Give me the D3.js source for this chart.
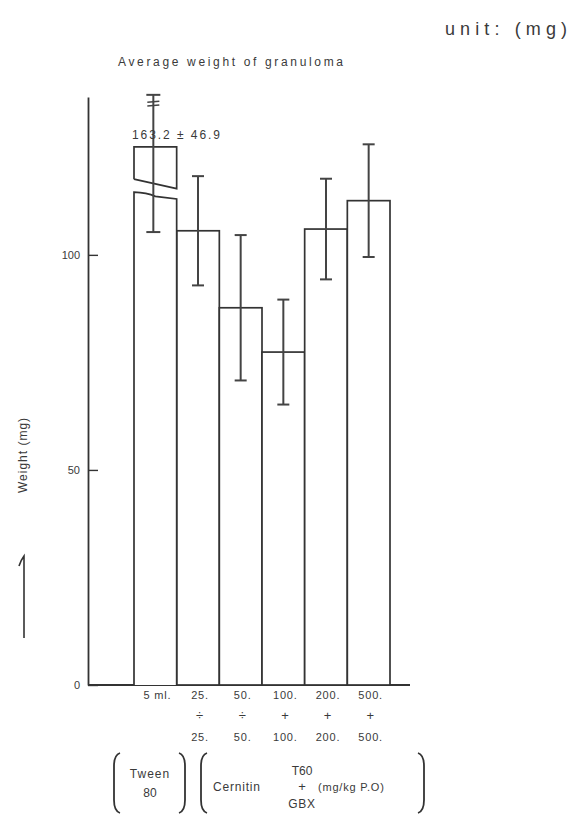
<!DOCTYPE html>
<html>
<head>
<meta charset="utf-8">
<script src="https://cdn.jsdelivr.net/npm/d3@7"></script>
<style>
  body { margin: 0; background: #fff; }
  text { font-family: "Liberation Sans", Arial, sans-serif; fill: #3a3a3a; }
</style>
</head>
<body>
<div id="chart"></div>
<script>
(function(){

    // groups, in drawing order
    var groups    = ["ctrl", "25", "50", "100", "200", "500"];
    var topLabels = ["5 ml.", "25.", "50.", "100.", "200.", "500."];
    var midLabels = ["", "÷", "÷", "+", "+", "+"];
    var botLabels = ["", "25.", "50.", "100.", "200.", "500."];

    // mean weight of granuloma (mg) and SD
    var means = [163.2, 105.6, 87.7, 77.4, 106.0, 112.6];
    var sds   = [46.9, 12.7, 16.9, 12.2, 11.7, 13.1];

    var yTicks = [0, 50, 100];

    // the control bar sits on a broken axis: real value -> drawn value
    var ctrlReal  = [0, 116.3, 163.2, 210.1];
    var ctrlDrawn = [0, 105.3, 125.1, 137.2];
    var ctrlBreakUpper = [117.6, 115.4];   // left, right (drawn units)
    var ctrlBreakLower = [114.6, 113.0];
    var ctrlWhiskerBreak = [135.6, 134.7];

    var stroke = "#333";

    var svg = d3.select("#chart")
                .append("svg")
                .attr("width", 571)
                .attr("height", 815);

    var y = d3.scaleLinear().domain([0, 136.7]).range([685, 97]);
    var x = d3.scaleBand().domain(groups).range([134, 390]).padding(0);
    var yCtrl = d3.scaleLinear().domain(ctrlReal).range(ctrlDrawn);
    var bw = x.bandwidth();

    // titles
    svg.append("text")
       .attr("x", 445).attr("y", 35)
       .attr("font-size", 18)
       .attr("font-family", "DejaVu Sans, sans-serif")
       .attr("textLength", 122)
       .text("unit:  (mg)");

    svg.append("text")
       .attr("x", 118).attr("y", 66)
       .attr("font-size", 12)
       .attr("textLength", 225)
       .text("Average weight of granuloma");

    // y axis
    var axis = svg.append("g")
                  .attr("transform", "translate(88,0)")
                  .call(d3.axisLeft(y)
                          .tickValues(yTicks)
                          .tickSizeInner(-10)
                          .tickSizeOuter(0)
                          .tickPadding(8));
    axis.select(".domain").attr("stroke", stroke).attr("stroke-width", 1.8);
    axis.selectAll(".tick line").attr("stroke", stroke).attr("stroke-width", 1.4);
    axis.selectAll(".tick text")
        .attr("font-size", 11)
        .attr("fill", "#3a3a3a")
        .attr("font-family", "Liberation Sans, Arial, sans-serif");

    svg.append("line")
       .attr("x1", 88).attr("x2", 410)
       .attr("y1", y(0)).attr("y2", y(0))
       .attr("stroke", stroke).attr("stroke-width", 1.8);

    svg.append("text")
       .attr("transform", "translate(27,455) rotate(-90)")
       .attr("text-anchor", "middle")
       .attr("font-size", 12)
       .attr("letter-spacing", 1)
       .text("Weight (mg)");

    svg.append("path")
       .attr("d", "M24,638 L24,556 Q21,560 19,566")
       .attr("fill", "none")
       .attr("stroke", stroke)
       .attr("stroke-width", 1.6);

    // bars 2..6
    var rest = groups.slice(1);
    svg.selectAll("rect.bar")
       .data(rest)
       .enter()
       .append("rect")
       .attr("class", "bar")
       .attr("x", function(d){ return x(d); })
       .attr("y", function(d, i){ return y(means[i + 1]); })
       .attr("width", bw)
       .attr("height", function(d, i){ return y(0) - y(means[i + 1]); })
       .attr("fill", "#fff")
       .attr("stroke", stroke)
       .attr("stroke-width", 1.7);

    // control bar, broken
    var x0 = x("ctrl"), x1 = x0 + bw;
    var ctrlTop = yCtrl(means[0]);
    svg.append("path")
       .attr("d", "M" + x0 + "," + y(0) +
                  "L" + x0 + "," + y(ctrlBreakLower[0]) +
                  "Q" + (x0 + bw * 0.3) + "," + y(ctrlBreakLower[0] - 0.1) + " " +
                        (x0 + bw * 0.5) + "," + y(ctrlBreakLower[1] + 0.6) +
                  "L" + x1 + "," + y(ctrlBreakLower[1]) +
                  "L" + x1 + "," + y(0))
       .attr("fill", "#fff")
       .attr("stroke", stroke)
       .attr("stroke-width", 1.7);

    svg.append("path")
       .attr("d", "M" + x0 + "," + y(ctrlBreakUpper[0]) +
                  "L" + x0 + "," + y(ctrlTop) +
                  "L" + x1 + "," + y(ctrlTop) +
                  "L" + x1 + "," + y(ctrlBreakUpper[1]) +
                  "L" + x0 + "," + y(ctrlBreakUpper[0]))
       .attr("fill", "#fff")
       .attr("stroke", stroke)
       .attr("stroke-width", 1.7);

    // error bars
    var cap = 6;
    function whisker(cx, lo, hi, w) {
        svg.append("line")
           .attr("x1", cx).attr("x2", cx)
           .attr("y1", y(lo)).attr("y2", y(hi))
           .attr("stroke", "#444").attr("stroke-width", 2);
        [lo, hi].forEach(function(v){
            svg.append("line")
               .attr("x1", cx - w).attr("x2", cx + w)
               .attr("y1", y(v)).attr("y2", y(v))
               .attr("stroke", "#444").attr("stroke-width", 2);
        });
    }

    rest.forEach(function(g, i){
        var m = means[i + 1], s = sds[i + 1];
        whisker(x(g) + bw / 2, m - s, m + s, cap);
    });

    var cc = x0 + bw / 2 - 2;
    whisker(cc, yCtrl(means[0] - sds[0]), yCtrl(means[0] + sds[0]), cap + 1);
    ctrlWhiskerBreak.forEach(function(v){
        svg.append("line")
           .attr("x1", cc - cap).attr("x2", cc + cap)
           .attr("y1", y(v) + 0.5).attr("y2", y(v) - 0.5)
           .attr("stroke", "#444").attr("stroke-width", 1.5);
    });

    svg.append("text")
       .attr("x", x0 - 2).attr("y", 139)
       .attr("font-size", 12)
       .attr("textLength", 88)
       .text(means[0] + " ± " + sds[0]);

    // x labels
    var rows = [[topLabels, 699, 11], [midLabels, 720, 13], [botLabels, 741, 11]];
    rows.forEach(function(r){
        svg.selectAll(null)
           .data(groups)
           .enter()
           .append("text")
           .attr("x", function(d){ return x(d) + bw / 2 + 2; })
           .attr("y", r[1])
           .attr("text-anchor", "middle")
           .attr("font-size", r[2])
           .attr("letter-spacing", 0.8)
           .text(function(d, i){ return r[0][i]; });
    });

    // brackets under the axis
    function bracket(bx, dir) {
        svg.append("path")
           .attr("d", "M" + (bx + 6 * dir) + ",753 Q" + bx + ",755 " + bx + ",766" +
                      " L" + bx + ",800 Q" + bx + ",811 " + (bx + 6 * dir) + ",813")
           .attr("fill", "none")
           .attr("stroke", stroke)
           .attr("stroke-width", 1.8);
    }
    bracket(114, 1);
    bracket(185, -1);
    bracket(201, 1);
    bracket(424, -1);

    svg.append("text").attr("x", 150).attr("y", 778).attr("text-anchor", "middle")
       .attr("font-size", 12).attr("letter-spacing", 1).text("Tween");
    svg.append("text").attr("x", 150).attr("y", 797).attr("text-anchor", "middle")
       .attr("font-size", 12).text("80");
    svg.append("text").attr("x", 213).attr("y", 791)
       .attr("font-size", 12).attr("letter-spacing", 0.8).text("Cernitin");
    svg.append("text").attr("x", 302).attr("y", 775).attr("text-anchor", "middle")
       .attr("font-size", 12).text("T60");
    svg.append("text").attr("x", 302).attr("y", 791).attr("text-anchor", "middle")
       .attr("font-size", 13).text("+");
    svg.append("text").attr("x", 302).attr("y", 808).attr("text-anchor", "middle")
       .attr("font-size", 12).attr("letter-spacing", 0.8).text("GBX");
    svg.append("text").attr("x", 318).attr("y", 791)
       .attr("font-size", 11).attr("letter-spacing", 0.8).text("(mg/kg P.O)");

})();
</script>
</body>
</html>
